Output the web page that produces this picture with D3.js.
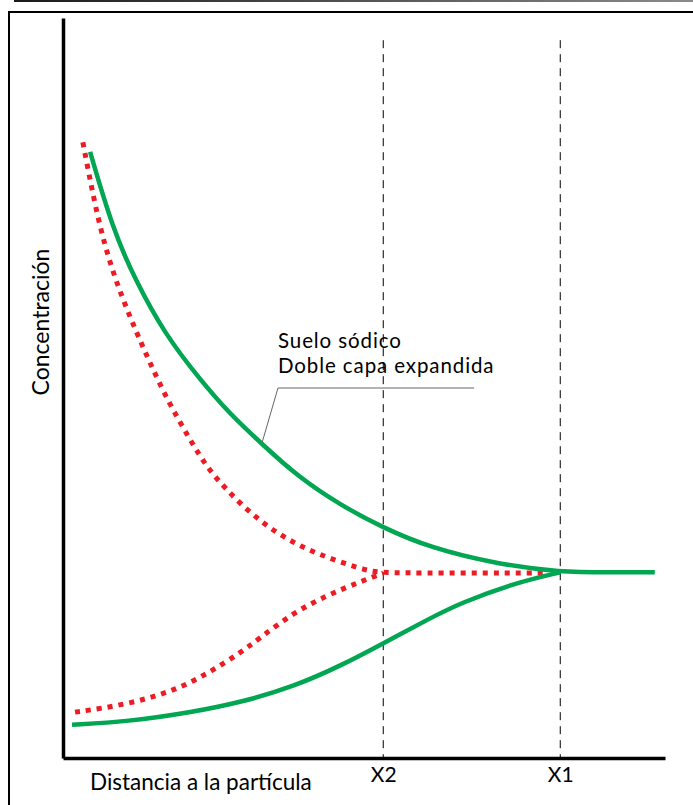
<!DOCTYPE html>
<html>
<head>
<meta charset="utf-8">
<script src="https://cdn.jsdelivr.net/npm/d3@7"></script>
<style>
  body { margin: 0; background: #fff; }
  svg { display: block; font-family: Lato, "Open Sans", sans-serif; }
</style>
</head>
<body>
<div id="chart"></div>
<script>
// curvas (distancia 0-100, concentracion 0-100)
const sodicoArriba = [
  {x: 4.5, y: 81.9}, {x: 8.3, y: 71.4}, {x: 12.0, y: 64.6}, {x: 16.9, y: 57.3},
  {x: 22.8, y: 51.1}, {x: 27.7, y: 46.5}, {x: 33.1, y: 42.4}, {x: 38.9, y: 38.1},
  {x: 46.0, y: 34.2}, {x: 53.2, y: 31.1}, {x: 61.0, y: 28.4}, {x: 72.1, y: 26.2},
  {x: 82.6, y: 25.1}, {x: 90.9, y: 25.1}, {x: 98.3, y: 25.1}
];
const sodicoAbajo = [
  {x: 1.5, y: 4.5}, {x: 10.6, y: 4.9}, {x: 21.6, y: 6.2}, {x: 29.9, y: 7.6},
  {x: 38.2, y: 9.6}, {x: 46.5, y: 12.6}, {x: 53.2, y: 15.5}, {x: 61.0, y: 18.9},
  {x: 65.9, y: 20.9}, {x: 74.8, y: 23.6}, {x: 82.6, y: 25.1}
];
const floculadoArriba = [
  {x: 3.3, y: 83.2}, {x: 4.5, y: 78.1}, {x: 6.1, y: 71.8}, {x: 8.3, y: 65.5},
  {x: 11.1, y: 59.6}, {x: 14.0, y: 54.2}, {x: 17.3, y: 48.4}, {x: 21.1, y: 43.0},
  {x: 23.9, y: 39.3}, {x: 27.2, y: 36.2}, {x: 31.1, y: 33.1}, {x: 35.5, y: 30.4},
  {x: 39.9, y: 28.4}, {x: 44.9, y: 26.8}, {x: 50.5, y: 25.3}, {x: 53.2, y: 25.0},
  {x: 66.8, y: 25.0}, {x: 80.4, y: 25.0}
];
const floculadoAbajo = [
  {x: 2.0, y: 6.2}, {x: 10.6, y: 7.2}, {x: 18.9, y: 9.2}, {x: 24.4, y: 11.6},
  {x: 29.4, y: 14.2}, {x: 32.7, y: 16.2}, {x: 38.2, y: 19.6}, {x: 43.9, y: 22.0},
  {x: 49.3, y: 23.8}, {x: 53.2, y: 25.0}
];
const marcas = [53.2, 82.6];
const marcasTexto = ['X2', 'X1'];
const anotacion = ['Suelo sódico', 'Doble capa expandida'];

const width = 693, height = 805;
const margin = {top: 18, right: 28, bottom: 47, left: 63};

const svg = d3.select('#chart')
  .append('svg')
  .attr('width', width)
  .attr('height', height);

// lineas del marco
const grad = svg.append('defs').append('linearGradient')
  .attr('id', 'gradTop');
grad.append('stop').attr('offset', '0%').attr('stop-color', '#1a1a1a');
grad.append('stop').attr('offset', '100%').attr('stop-color', '#8a8a8a');

svg.append('rect')
  .attr('x', 14).attr('y', 0).attr('width', width - 14).attr('height', 2)
  .attr('fill', 'url(#gradTop)');

svg.append('path')
  .attr('d', `M9,${height} V12 H${width}`)
  .attr('fill', 'none')
  .attr('stroke', '#000')
  .attr('stroke-width', 2);

const x = d3.scaleLinear()
  .domain([0, 100])
  .range([margin.left, width - margin.right]);

const y = d3.scaleLinear()
  .domain([0, 100])
  .range([height - margin.bottom, margin.top]);

// lineas guia X2 y X1
svg.selectAll('.guia')
  .data(marcas)
  .enter()
  .append('line')
  .attr('class', 'guia')
  .attr('x1', d => x(d)).attr('x2', d => x(d))
  .attr('y1', y(97)).attr('y2', y(0))
  .attr('stroke', '#000')
  .attr('stroke-width', 1)
  .attr('stroke-dasharray', '8,6');

const line = d3.line()
  .x(d => x(d.x))
  .y(d => y(d.y))
  .curve(d3.curveBasis);

[floculadoArriba, floculadoAbajo].forEach(serie => {
  svg.append('path')
    .datum(serie)
    .attr('fill', 'none')
    .attr('stroke', '#ed1c24')
    .attr('stroke-width', 5)
    .attr('stroke-dasharray', '5,6')
    .attr('d', line);
});

[sodicoArriba, sodicoAbajo].forEach(serie => {
  svg.append('path')
    .datum(serie)
    .attr('fill', 'none')
    .attr('stroke', '#00a651')
    .attr('stroke-width', 4.5)
    .attr('d', line);
});

// ejes
const xAxis = d3.axisBottom(x)
  .tickValues(marcas)
  .tickFormat((d, i) => marcasTexto[i])
  .tickSize(0)
  .tickPadding(9);

const gx = svg.append('g')
  .attr('transform', `translate(0,${y(0)})`)
  .call(xAxis);
gx.select('.domain').attr('stroke', '#000').attr('stroke-width', 3.5);
gx.selectAll('text')
  .attr('fill', '#000')
  .style('font-size', '21px')
  .style('font-family', 'Lato, sans-serif');

const gy = svg.append('g')
  .attr('transform', `translate(${x(0)},0)`)
  .call(d3.axisLeft(y).tickValues([]).tickSizeOuter(0));
gy.select('.domain').attr('stroke', '#000').attr('stroke-width', 3.5);

svg.append('text')
  .attr('x', 90)
  .attr('y', 790)
  .attr('font-size', 22.5)
  .attr('fill', '#000')
  .text('Distancia a la partícula');

svg.append('text')
  .attr('transform', `translate(49,322) rotate(-90)`)
  .attr('text-anchor', 'middle')
  .attr('font-size', 23)
  .attr('fill', '#000')
  .text('Concentración');

// anotacion
const ax = 278;
svg.selectAll('.nota')
  .data(anotacion)
  .enter()
  .append('text')
  .attr('class', 'nota')
  .attr('x', ax)
  .attr('y', (d, i) => 348 + i * 25)
  .attr('font-size', 20.5)
  .attr('letter-spacing', 0.9)
  .attr('fill', '#000')
  .text(d => d);

svg.append('path')
  .attr('d', `M${x(68.3)},${y(50)} H${ax} L${x(33.1)},${y(42.7)}`)
  .attr('fill', 'none')
  .attr('stroke', '#666')
  .attr('stroke-width', 1);
</script>
</body>
</html>
